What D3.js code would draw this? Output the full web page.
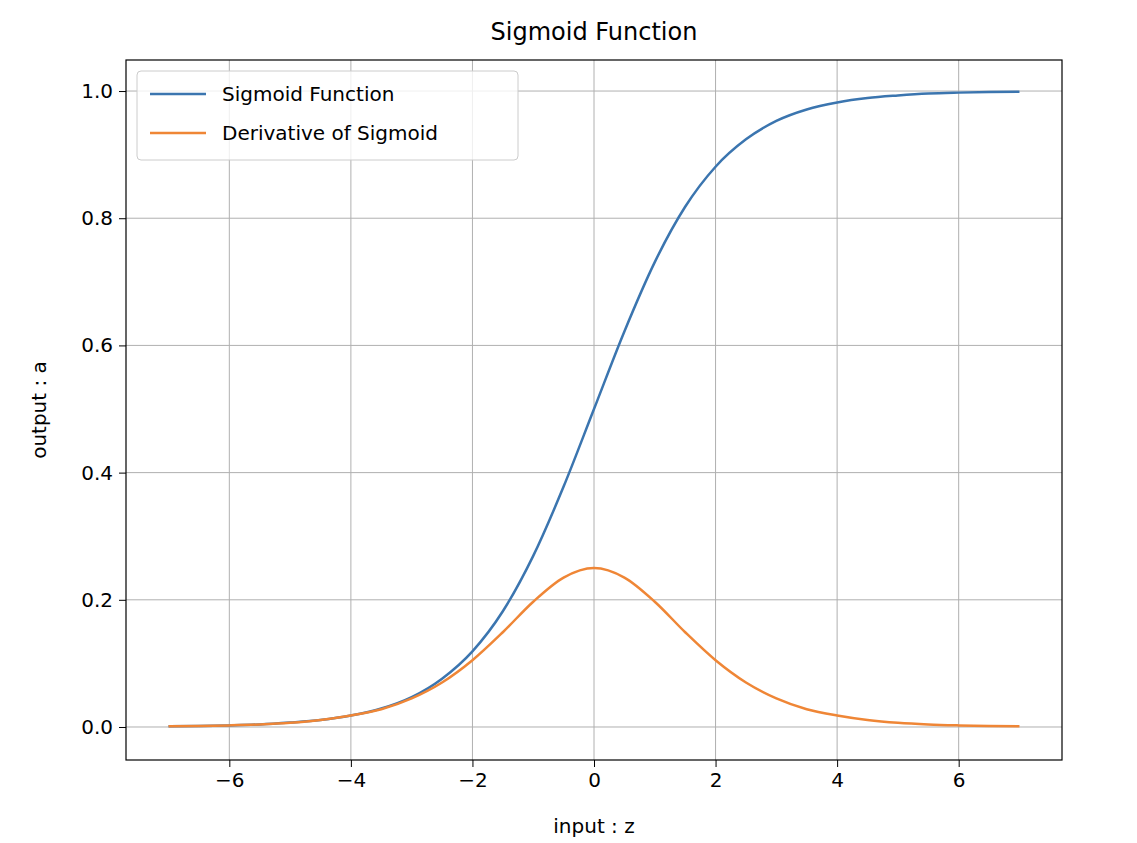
<!DOCTYPE html>
<html>
<head>
<meta charset="utf-8">
<script src="https://cdn.jsdelivr.net/npm/d3@7"></script>
<style>
  body { margin: 0; background: #fff; }
  text { font-family: "DejaVu Sans", sans-serif; fill: #000; }
</style>
</head>
<body>
<div id="canvas"></div>
<script>
"use strict"

/* Values */
let zValues = [-7, -6.5, -6, -5.5, -5, -4.5, -4, -3.5, -3, -2.5, -2, -1.5, -1, -0.5, 0,
    0.5, 1, 1.5, 2, 2.5, 3, 3.5, 4, 4.5, 5, 5.5, 6, 6.5, 7];
let sigmoidValues = [0.001, 0.0015, 0.0025, 0.004, 0.007, 0.011, 0.018, 0.029, 0.047, 0.076, 0.119, 0.182, 0.269, 0.378, 0.5,
    0.622, 0.731, 0.818, 0.881, 0.924, 0.953, 0.971, 0.982, 0.989, 0.993, 0.996, 0.9975, 0.9985, 0.999];
let derivativeValues = [0.001, 0.0015, 0.0025, 0.004, 0.0066, 0.011, 0.018, 0.028, 0.045, 0.070, 0.105, 0.149, 0.197, 0.235, 0.25,
    0.235, 0.197, 0.149, 0.105, 0.070, 0.045, 0.028, 0.018, 0.011, 0.0066, 0.004, 0.0025, 0.0015, 0.001];
let xTicks = [-6, -4, -2, 0, 2, 4, 6];
let yTicks = [0.0, 0.2, 0.4, 0.6, 0.8, 1.0];
let seriesNames = ["Sigmoid Function", "Derivative of Sigmoid"];
let seriesColors = ["#3b75af", "#ef8636"];

/* Drawing configuration */
let svgWidth = 1137;
let svgHeight = 843;
let plotLeft = 126, plotRight = 1062, plotTop = 60, plotBottom = 760;

let svg = d3.select("#canvas")
    .append("svg")
    .attr("width", svgWidth)
    .attr("height", svgHeight);

let x = d3.scaleLinear()
    .domain([-7.7, 7.7])
    .range([plotLeft, plotRight]);

let y = d3.scaleLinear()
    .domain([-0.0519, 1.0488])
    .range([plotBottom, plotTop]);

/* grid */
svg.append("g").selectAll("line")
    .data(xTicks)
    .join("line")
    .attr("x1", d => x(d)).attr("x2", d => x(d))
    .attr("y1", plotTop).attr("y2", plotBottom)
    .attr("stroke", "#b0b0b0").attr("stroke-width", 1);

svg.append("g").selectAll("line")
    .data(yTicks)
    .join("line")
    .attr("y1", d => y(d)).attr("y2", d => y(d))
    .attr("x1", plotLeft).attr("x2", plotRight)
    .attr("stroke", "#b0b0b0").attr("stroke-width", 1);

/* axes */
let xAxis = svg.append("g")
    .attr("transform", "translate(0," + plotBottom + ")")
    .call(d3.axisBottom(x).tickValues(xTicks).tickSize(7).tickPadding(6)
        .tickFormat(d => d < 0 ? "\u2212" + Math.abs(d) : d));

let yAxis = svg.append("g")
    .attr("transform", "translate(" + plotLeft + ",0)")
    .call(d3.axisLeft(y).tickValues(yTicks).tickSize(7).tickPadding(6)
        .tickFormat(d3.format(".1f")));

[xAxis, yAxis].forEach(function (a) {
    a.select(".domain").remove();
    a.selectAll("text").attr("font-size", 20).attr("font-family", "DejaVu Sans, sans-serif");
    a.selectAll("line").attr("stroke", "#000");
});

/* lines */
let series = [sigmoidValues, derivativeValues];
let line = d3.line()
    .x(d => x(d[0]))
    .y(d => y(d[1]))
    .curve(d3.curveMonotoneX);

series.forEach(function (values, i) {
    svg.append("path")
        .datum(zValues.map((z, j) => [z, values[j]]))
        .attr("fill", "none")
        .attr("stroke", seriesColors[i])
        .attr("stroke-width", 2.5)
        .attr("d", line);
});

/* frame */
svg.append("rect")
    .attr("x", plotLeft).attr("y", plotTop)
    .attr("width", plotRight - plotLeft).attr("height", plotBottom - plotTop)
    .attr("fill", "none").attr("stroke", "#000").attr("stroke-width", 1.2);

/* legend */
svg.append("rect")
    .attr("x", 137).attr("y", 71)
    .attr("width", 381).attr("height", 89)
    .attr("rx", 4)
    .attr("fill", "#fff").attr("fill-opacity", 0.8)
    .attr("stroke", "#ccc");

seriesNames.forEach(function (name, i) {
    let ly = 94 + i * 39;
    svg.append("line")
        .attr("x1", 150).attr("x2", 206)
        .attr("y1", ly).attr("y2", ly)
        .attr("stroke", seriesColors[i]).attr("stroke-width", 2.5);
    svg.append("text")
        .attr("x", 222).attr("y", ly)
        .attr("dominant-baseline", "central")
        .attr("font-size", 20)
        .text(name);
});

/* title and labels */
svg.append("text")
    .attr("x", (plotLeft + plotRight) / 2).attr("y", 40)
    .attr("text-anchor", "middle")
    .attr("font-size", 24)
    .text("Sigmoid Function");

svg.append("text")
    .attr("x", (plotLeft + plotRight) / 2).attr("y", 833)
    .attr("text-anchor", "middle")
    .attr("font-size", 20)
    .text("input : z");

svg.append("text")
    .attr("transform", "translate(46," + ((plotTop + plotBottom) / 2) + ") rotate(-90)")
    .attr("text-anchor", "middle")
    .attr("font-size", 20)
    .text("output : a");
</script>
</body>
</html>
